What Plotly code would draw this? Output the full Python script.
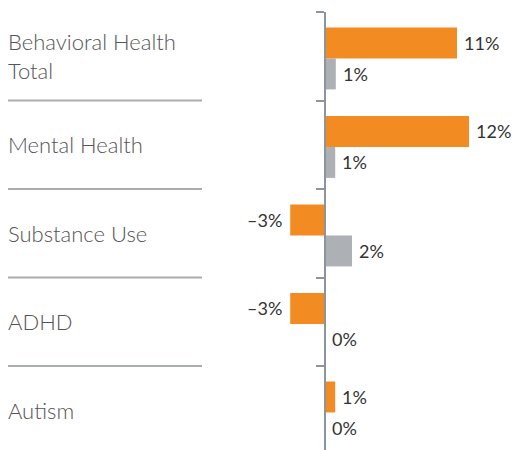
import plotly.graph_objects as go

categories = ["Behavioral Health<br>Total", "Mental Health", "Substance Use", "ADHD", "Autism"]
orange_values = [11.0, 12.0, -2.9, -2.9, 0.85]
gray_values = [0.9, 0.85, 2.25, 0.0, 0.0]
orange_labels = ["11%", "12%", "–3%", "–3%", "1%"]
gray_labels = ["1%", "1%", "2%", "0%", "0%"]

ORANGE = "#f28c22"
GRAY = "#adb1b5"
AXIS = "#8c959d"
FONT = "Lato"

W, H = 512, 450
px_per_unit_x = 12.0
zero_px = 325
px_per_band = 88.5
top_m = 12
plot_h = H - top_m

idx = list(range(len(categories)))
orange_pos = [i - 0.15 for i in idx]
gray_pos = [i + 0.20 for i in idx]
bar_w = 0.35

fig = go.Figure()
fig.add_trace(go.Bar(y=orange_pos, x=orange_values, orientation="h", width=bar_w,
                     marker=dict(color=ORANGE, line=dict(width=0)), hoverinfo="skip"))
fig.add_trace(go.Bar(y=gray_pos, x=gray_values, orientation="h", width=bar_w,
                     marker=dict(color=GRAY, line=dict(width=0)), hoverinfo="skip"))

annotations = []
for pos, val, lab in list(zip(orange_pos, orange_values, orange_labels)) + list(zip(gray_pos, gray_values, gray_labels)):
    neg = val < 0
    annotations.append(dict(x=val, y=pos, xref="x", yref="y", text=lab, showarrow=False,
                            xanchor="right" if neg else "left", yanchor="middle",
                            xshift=-8 if neg else 7, borderpad=0, borderwidth=0,
                            font=dict(family=FONT, size=18, color="#333333")))
for i, cat in zip(idx, categories):
    annotations.append(dict(x=6 / W, y=i, xref="paper", yref="y", text=cat, showarrow=False,
                            xanchor="left", yanchor="middle", align="left",
                            font=dict(family=FONT, size=22, color="#555555", weight=300)))

shapes = []
for i in idx[:-1]:
    shapes.append(dict(type="line", xref="paper", yref="y", x0=8 / W, x1=202 / W,
                       y0=i + 0.5, y1=i + 0.5, line=dict(color="#a9adb1", width=2)))

fig.update_layout(
    width=W, height=H,
    margin=dict(l=0, r=0, t=top_m, b=0),
    paper_bgcolor="white", plot_bgcolor="white",
    barmode="overlay", showlegend=False,
    xaxis=dict(range=[-zero_px / px_per_unit_x, (W - zero_px) / px_per_unit_x],
               visible=False, fixedrange=True),
    yaxis=dict(range=[-0.5 + plot_h / px_per_band, -0.5], anchor="free",
               position=zero_px / W, showline=True, linecolor=AXIS, linewidth=1.5,
               ticks="outside", ticklen=8, tickcolor=AXIS, tickwidth=1.5,
               tickvals=[i - 0.5 for i in idx], showticklabels=False,
               showgrid=False, zeroline=False, fixedrange=True),
    annotations=annotations, shapes=shapes,
)

fig.write_html("out.html", config={"displayModeBar": False},
               post_script="document.body.style.margin='0';document.body.style.overflow='hidden';")
